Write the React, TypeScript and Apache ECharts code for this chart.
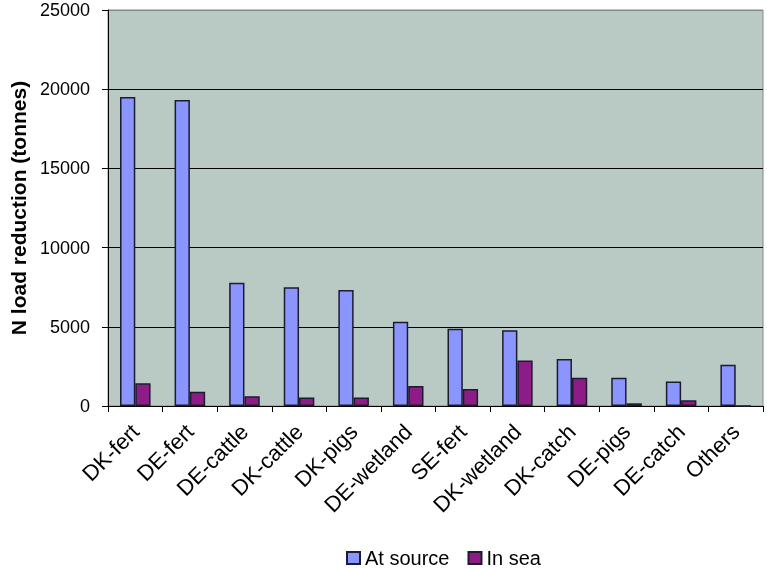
import React, { useEffect, useRef } from "react";
import * as echarts from "echarts";

const categories = ["DK-fert", "DE-fert", "DE-cattle", "DK-cattle", "DK-pigs", "DE-wetland", "SE-fert", "DK-wetland", "DK-catch", "DE-pigs", "DE-catch", "Others"];
const atSource = [19500, 19320, 7780, 7500, 7320, 5320, 4880, 4780, 2970, 1790, 1540, 2610];
const inSea = [1430, 900, 620, 540, 540, 1260, 1080, 2880, 1790, 170, 360, 0];
const yTicks = { min: 0, max: 25000, interval: 5000 };
const yTitle = "N load reduction (tonnes)";

const FONT = "'Liberation Sans', Arial, Helvetica, sans-serif";

export default function App() {
  const ref = useRef<HTMLDivElement>(null);
  useEffect(() => {
    if (!ref.current) return;
    const chart = echarts.init(ref.current, null, { renderer: "svg" });
    chart.setOption({
      animation: false,
      textStyle: { fontFamily: FONT },
      grid: {
        left: 108,
        right: 4,
        top: 10,
        bottom: 163,
        show: true,
        backgroundColor: "#b9c9c3",
        borderColor: "#7d8c87",
        borderWidth: 1,
      },
      legend: {
        left: 346,
        top: 548,
        padding: 0,
        icon: "rect",
        itemWidth: 13,
        itemHeight: 12,
        itemGap: 18,
        textStyle: { fontSize: 20, lineHeight: 20, color: "#000", fontFamily: FONT },
        data: ["At source", "In sea"],
      },
      xAxis: {
        type: "category",
        data: categories,
        axisLine: { lineStyle: { color: "#000", width: 1 } },
        axisTick: { show: true, length: 6, lineStyle: { color: "#000" } },
        axisLabel: {
          rotate: 45,
          fontSize: 22,
          color: "#000",
          fontFamily: FONT,
          margin: 22,
          interval: 0,
        },
      },
      yAxis: {
        type: "value",
        min: yTicks.min,
        max: yTicks.max,
        interval: yTicks.interval,
        axisLine: { show: true, lineStyle: { color: "#000", width: 1 } },
        axisTick: { show: true, length: 6, lineStyle: { color: "#000" } },
        axisLabel: {
          fontSize: 18,
          color: "#000",
          fontFamily: FONT,
          margin: 18,
          formatter: (v: number) => String(v),
        },
        splitLine: {
          show: true,
          lineStyle: { color: ["#000", "#000", "#000", "#000", "#000", "#7d8c87"], width: 1 },
        },
      },
      graphic: [
        {
          type: "text",
          x: 18,
          y: 208,
          rotation: Math.PI / 2,
          style: {
            text: yTitle,
            font: `bold 21px ${FONT}`,
            fill: "#000",
            textAlign: "center",
            textVerticalAlign: "middle",
          },
        },
      ],
      series: [
        {
          name: "At source",
          type: "bar",
          data: atSource,
          barGap: "0%",
          barCategoryGap: "44%",
          itemStyle: { color: "#8a95fd", borderColor: "#1c1c30", borderWidth: 1.5 },
        },
        {
          name: "In sea",
          type: "bar",
          data: inSea,
          barGap: "0%",
          barCategoryGap: "44%",
          itemStyle: { color: "#8d1c87", borderColor: "#1c1c30", borderWidth: 1.5 },
        },
      ],
    });
    return () => chart.dispose();
  }, []);
  return (
    <div
      ref={ref}
      style={{ position: "fixed", left: 0, top: 0, width: 767, height: 569 }}
    />
  );
}
